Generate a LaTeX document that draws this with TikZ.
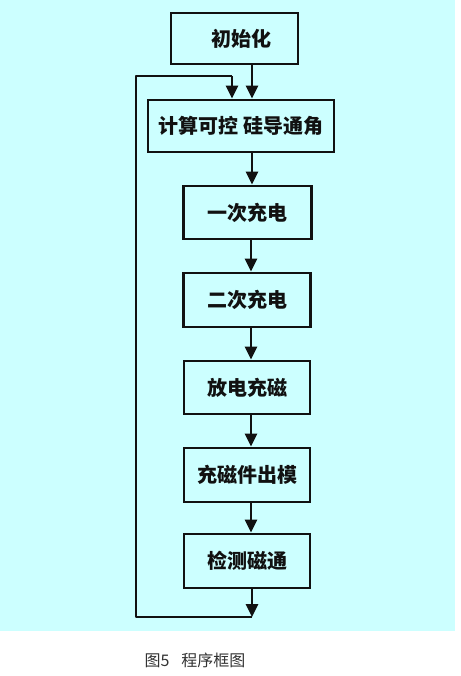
\documentclass[tikz,border=0pt]{standalone}
\usepackage{fontspec}
\newfontfamily\cjk{Noto Sans CJK SC}
\usetikzlibrary{arrows.meta}
\definecolor{bgcyan}{HTML}{CCFFFF}
\definecolor{linec}{HTML}{111111}
\tikzset{
  box/.style={draw=linec, line width=2.8pt, fill=bgcyan, rectangle, inner sep=0pt,
    font=\cjk\bfseries\fontsize{20pt}{22pt}\selectfont, text=linec},
  arr/.style={draw=linec, line width=2.8pt, -{Triangle[width=12pt,length=13pt]}},
  ln/.style={draw=linec, line width=2.8pt}
}
\begin{document}
\begin{tikzpicture}[x=1pt,y=-1pt]
\useasboundingbox (0,0) rectangle (460,676);
\fill[white] (0,0) rectangle (460,676);
\fill[bgcyan] (0,0) rectangle (455,631);
\node[box, minimum width=127pt, minimum height=51pt] (b1) at (234.5,38.5) {\hspace{14pt}初始化};
\node[box, minimum width=186pt, minimum height=52pt] (b2) at (241,126) {计算可控 硅导通角\hspace{10pt}};
\node[box, minimum width=128pt, minimum height=53pt] (b3) at (247.5,212.5) {一次充电};
\node[box, minimum width=127pt, minimum height=54pt] (b4) at (247,300) {二次充电};
\node[box, minimum width=126pt, minimum height=53pt] (b5) at (247,387.5) {放电充磁};
\node[box, minimum width=126pt, minimum height=54pt] (b6) at (247,475) {充磁件出模};
\node[box, minimum width=126pt, minimum height=54pt] (b7) at (247,561) {检测磁通};
\coordinate (xa) at (252,0);
\coordinate (xb) at (251,0);
\coordinate (bot) at (252,617);
\coordinate (bl) at (136,617);
\coordinate (tl) at (136,76);
\coordinate (tr) at (232,76);
\draw[arr] (b1.south -| xa) -- (b2.north -| xa);
\draw[arr] (b2.south -| xa) -- (b3.north -| xa);
\draw[arr] (b3.south -| xb) -- (b4.north -| xb);
\draw[arr] (b4.south -| xb) -- (b5.north -| xb);
\draw[arr] (b5.south -| xb) -- (b6.north -| xb);
\draw[arr] (b6.south -| xb) -- (b7.north -| xb);
\draw[arr] (b7.south -| xa) -- (bot);
\draw[ln, line join=round] (bot) -- (bl) -- (tl) -- (tr);
\draw[arr] (tr) -- (b2.north -| tr);
\node[font=\cjk\fontsize{16pt}{18pt}\selectfont, text=black!80, anchor=west] (cap) at (141,660) {图5\hspace{12pt}程序框图};
\end{tikzpicture}
\end{document}
